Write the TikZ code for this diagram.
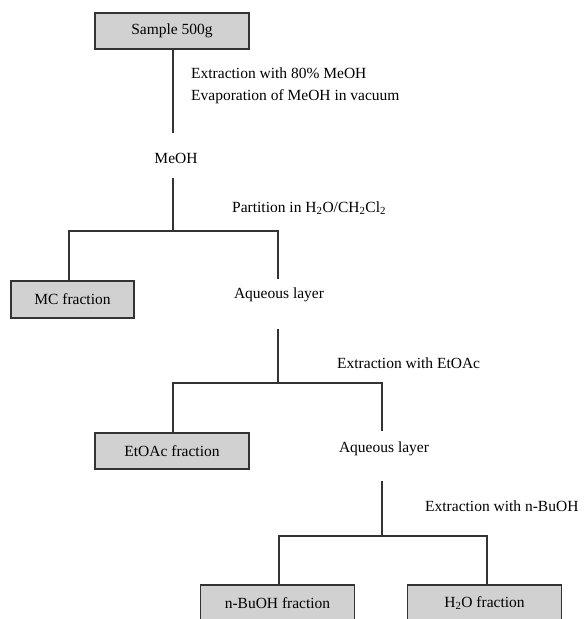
\documentclass[tikz,border=0pt]{standalone}
\usepackage{fontspec}
\setmainfont{Liberation Serif}
\begin{document}
\begin{tikzpicture}[x=1pt,y=-1pt,
    every node/.append style={font=\fontsize{15.5}{18}\selectfont, inner sep=0pt},
    frac/.style={draw=black!80, fill=black!18, line width=1.3pt, minimum width=154pt, minimum height=36pt},
    link/.style={draw=black!80, line width=1.3pt}]
    \useasboundingbox (0,0) rectangle (584,619);
    \clip (0,0) rectangle (584,619);

    \node[frac] (sample) at (172,31) {Sample 500g};
    \node[anchor=west] (ext) at (191,73) {Extraction with 80\% MeOH};
    \node[anchor=west] (evap) at (191,97) {Evaporation of MeOH in vacuum};
    \node (meoh) at (176,158) {MeOH};
    \coordinate (s1) at (173,133);
    \draw[link] (sample.south -| s1) -- (s1);

    \coordinate (m1) at (173,178);
    \coordinate (j1) at (173,231);
    \draw[link] (m1) -- (j1);
    \node[anchor=west] (part) at (232,208) {Partition in H\textsubscript{2}O/CH\textsubscript{2}Cl\textsubscript{2}};
    \node[frac, minimum width=123pt, minimum height=37pt] (mc) at (72.5,299.5) {MC fraction};
    \node (aq1) at (279,295) {Aqueous layer};
    \coordinate (a1) at (278,279);
    \draw[link] ([xshift=-3.5pt]mc.north) |- (j1) -| (a1);

    \coordinate (a1b) at (278,329);
    \coordinate (j2) at (278,383);
    \draw[link] (a1b) -- (j2);
    \node[anchor=west] (etext) at (337,363) {Extraction with EtOAc};
    \node[frac] (etfr) at (172,451) {EtOAc fraction};
    \node (aq2) at (384,449) {Aqueous layer};
    \coordinate (a2) at (382,431);
    \draw[link] ([xshift=1pt]etfr.north) |- (j2) -| (a2);

    \coordinate (a2b) at (382,481);
    \coordinate (j3) at (382,536);
    \draw[link] (a2b) -- (j3);
    \node[anchor=west] (buext) at (425,506) {Extraction with n-BuOH};
    \node[frac] (bufr) at (277.5,603) {n-BuOH fraction};
    \node[frac] (h2ofr) at (484.5,603) {H\textsubscript{2}O fraction};
    \draw[link] ([xshift=1.5pt]bufr.north) |- (j3) -| ([xshift=2.5pt]h2ofr.north);
\end{tikzpicture}
\end{document}
